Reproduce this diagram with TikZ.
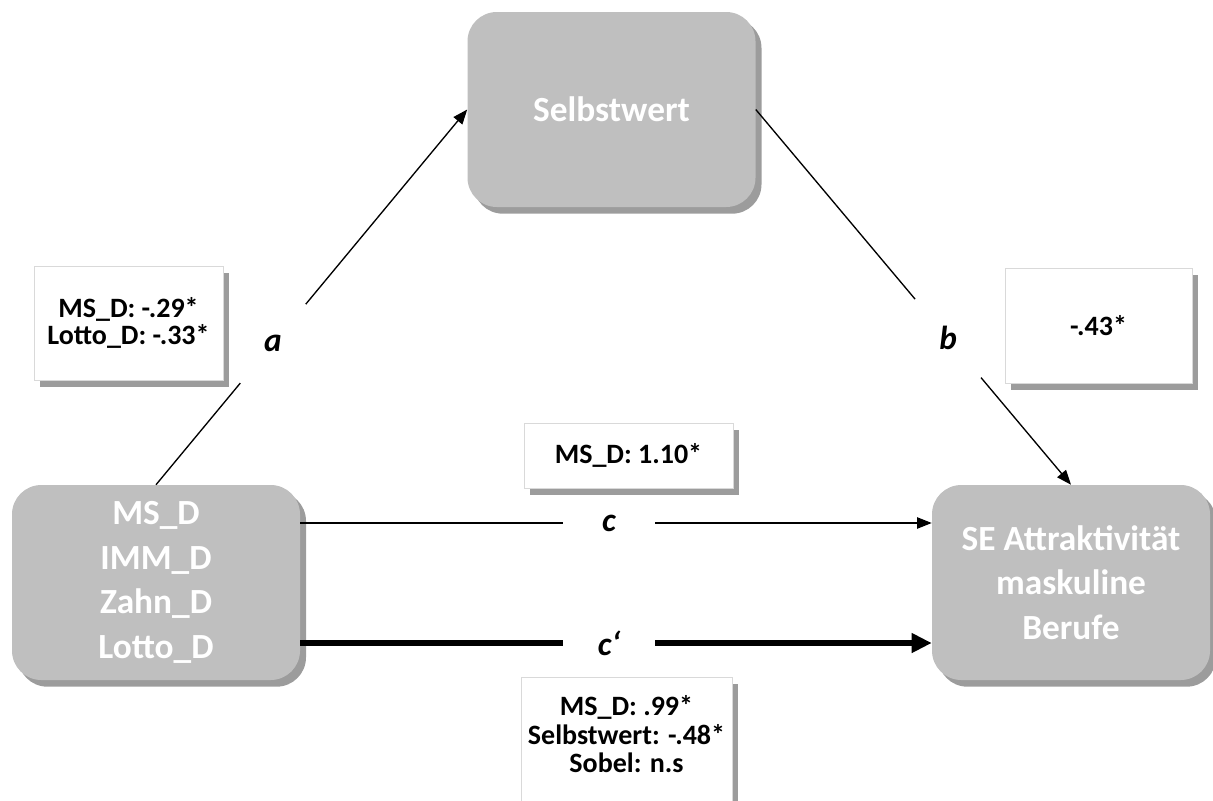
\documentclass[tikz,border=0pt]{standalone}
\usepackage{fontspec}
\setmainfont{Carlito}
\usetikzlibrary{shadows,arrows.meta,calc}

\definecolor{boxgray}{HTML}{BFBFBF}
\definecolor{shadowgray}{HTML}{9C9C9C}
\definecolor{bordergray}{HTML}{D9D9D9}

\begin{document}
\begin{tikzpicture}[x=0.75pt, y=-0.75pt,
    var/.style={rectangle, rounded corners=22pt, fill=boxgray, text=white, align=center,
        minimum width=216pt, minimum height=146.25pt, inner sep=0pt,
        font=\fontsize{26.5}{33.5}\selectfont\bfseries,
        drop shadow={shadow xshift=4.5pt, shadow yshift=-5pt, fill=shadowgray, opacity=1}},
    coef/.style={rectangle, draw=bordergray, line width=0.75pt, fill=white, align=center,
        inner sep=0pt, font=\fontsize{21}{20.5}\selectfont\bfseries,
        drop shadow={shadow xshift=4.5pt, shadow yshift=-5pt, fill=shadowgray, opacity=1}},
    gap/.style={circle, minimum size=76.5pt, inner sep=0pt,
        font=\fontsize{25}{25}\selectfont\bfseries\itshape},
    bar/.style={rectangle, minimum width=69pt, inner sep=0pt,
        font=\fontsize{25}{25}\selectfont\bfseries\itshape},
    thin/.style={line width=1pt, -{Triangle[length=11pt,width=8.5pt]}},
    heavy/.style={line width=5pt, -{Triangle[length=15pt,width=14pt]}}]

    \useasboundingbox (0,0) rectangle (1213,800);
    \clip (0,0) rectangle (1213,800);

    \node[var] (sel) at (611.5,109.5) {Selbstwert};
    \node[var] (src) at (156,582.5) {MS\_D\\IMM\_D\\Zahn\_D\\Lotto\_D};
    \node[var, minimum width=208.5pt] (rhs) at (1071,582.5) {SE Attraktivität\\maskuline\\Berufe};

    \node[coef, minimum width=141.75pt, minimum height=85.5pt] (acoef) at (128.5,323) {MS\_D: -.29*\\Lotto\_D: -.33*};
    \node[coef, minimum width=140.25pt, minimum height=86.25pt] (bcoef) at (1098.5,325.5) {-.43*};
    \node[coef, minimum width=156.75pt, minimum height=48.75pt] (ccoef) at (628.5,455.5) {MS\_D: 1.10*};
    \node[coef, anchor=north] (cpcoef) at (626.5,677)
        {\parbox[c][112.5pt][t]{158.25pt}{\centering\baselineskip=21.4pt
        \rule{0pt}{28.5pt}MS\_D: .99*\\Selbstwert: -.48*\\Sobel: n.s}};

    \node[gap] (a) at ($(src.north)!0.376!(sel.west)$) {a};
    \node[gap] (b) at ($(sel.east)!0.61!(rhs.north)$) {b};
    \node[bar] (c) at (609,523) {c};
    \node[bar] (cp) at (609,643) {c‘};

    \draw[line width=1pt] (src.north) -- (a);
    \draw[thin] (a) -- (sel.west);
    \draw[line width=1pt] (sel.east) -- (b);
    \draw[thin] (b) -- (rhs.north);
    \draw[line width=1pt] (src.east |- c) -- (c);
    \draw[thin] (c) -- (rhs.west |- c);
    \draw[line width=5pt] (src.east |- cp) -- (cp);
    \draw[heavy] (cp) -- (rhs.west |- cp);
\end{tikzpicture}
\end{document}
